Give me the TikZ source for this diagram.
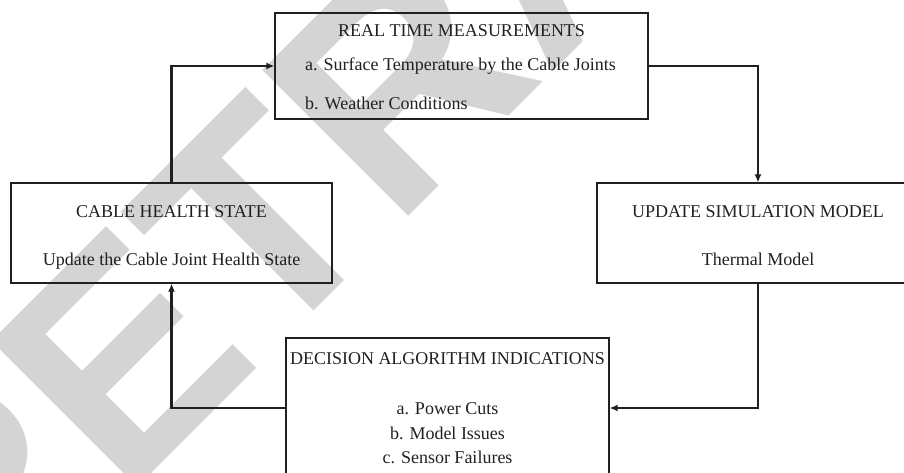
\documentclass[tikz,border=0pt]{standalone}
\usepackage{fontspec}
\setmainfont{Liberation Serif}
\newfontfamily\wmfont{Liberation Sans}
\usetikzlibrary{arrows.meta}
\definecolor{ink}{HTML}{231F20}
\definecolor{wmgray}{HTML}{D4D4D4}
\begin{document}
\begin{tikzpicture}[x=1pt,y=-1pt,
  box/.style={draw=ink, line width=1.2pt, inner sep=0pt},
  lbl/.style={font=\fontsize{18}{20}\selectfont, text=ink, anchor=base, inner sep=0pt},
  lbll/.style={lbl, anchor=base west},
  conn/.style={draw=ink, line width=2.2pt, -{Latex[length=8pt,width=7pt]}},
  wmark/.style={font=\wmfont\bfseries\fontsize{300}{300}\selectfont, text=wmgray, inner sep=0pt, anchor=base west, rotate=45}]
\useasboundingbox (0,0) rectangle (904,473);
\clip (0,0) rectangle (904,473);
\node[wmark] (wm) at (-30,655) {RETRACTED};
% boxes
\node[box, minimum width=373pt, minimum height=106pt] (rtm) at (461.5,66) {};
\node[box, minimum width=321pt, minimum height=100pt] (chs) at (171.5,233) {};
\node[box, minimum width=322pt, minimum height=100pt] (usm) at (758,233) {};
\node[box, minimum width=323pt, minimum height=140pt] (dai) at (447.5,408) {};
% texts
\node[lbl] (t1) at (461.5,37) {REAL TIME MEASUREMENTS};
\node[lbll] (t1a) at (305,71) {a. Surface Temperature by the Cable Joints};
\node[lbll] (t1b) at (305,110) {b. Weather Conditions};
\node[lbl] (t2) at (171.5,217) {CABLE HEALTH STATE};
\node[lbl] (t2a) at (171.5,265) {Update the Cable Joint Health State};
\node[lbl] (t3) at (758,217) {UPDATE SIMULATION MODEL};
\node[lbl] (t3a) at (758,265) {Thermal Model};
\node[lbl] (t4) at (447.5,364) {DECISION ALGORITHM INDICATIONS};
\node[lbl] (t4a) at (447.5,414) {a. Power Cuts};
\node[lbl] (t4b) at (447.5,439) {b. Model Issues};
\node[lbl] (t4c) at (447.5,463) {c. Sensor Failures};
% connectors
\draw[conn] (chs.north) |- (rtm.west);
\draw[conn] (rtm.east) -| (usm.north);
\draw[conn] (usm.south) |- (dai.east);
\draw[conn] (dai.west) -| (chs.south);
\end{tikzpicture}
\end{document}
